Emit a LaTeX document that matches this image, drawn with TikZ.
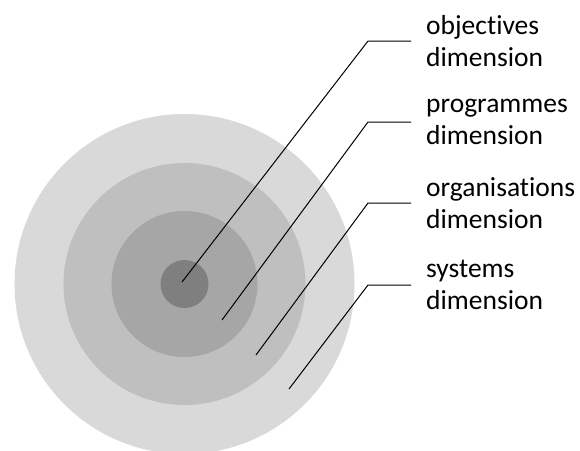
\documentclass[tikz,border=0pt]{standalone}
\usepackage{fontspec}
\setmainfont[RawFeature={-liga}]{Carlito}
\definecolor{ringOut}{HTML}{D9D9D9}
\definecolor{ringOrg}{HTML}{BFBFBF}
\definecolor{ringPrg}{HTML}{A5A6A5}
\definecolor{ringObj}{HTML}{7F7F7F}
\begin{document}
\begin{tikzpicture}[x=1pt,y=-1pt]
	\tikzset{ring/.style = {shape=circle,draw=none,inner sep=0pt}}
	\tikzset{dimlabel/.style = {anchor=west,align=left,inner xsep=15pt,font=\fontsize{27.5}{32}\selectfont}}
	\tikzset{leader/.style = {draw,line width=1pt,black}}
	\useasboundingbox (0,0) rectangle (580,450);
	\clip (0,0) rectangle (580,450);
	% nested rings, outside in
	\node[ring,fill=ringOut,minimum size=340pt] (sys) at (184.5,284) {};
	\node[ring,fill=ringOrg,minimum size=242pt] (org) at (184.5,284) {};
	\node[ring,fill=ringPrg,minimum size=146pt] (prg) at (184.5,284) {};
	\node[ring,fill=ringObj,minimum size=48pt] (obj) at (184.5,284) {};
	% labels
	\node[dimlabel] (lobj) at (411,41) {objectives\\dimension};
	\node[dimlabel] (lprg) at (411,122) {programmes\\dimension};
	\node[dimlabel] (lorg) at (411,203) {organisations\\dimension};
	\node[dimlabel] (lsys) at (411,285) {systems\\dimension};
	% leader lines
	\coordinate (pobj) at (182,282);
	\coordinate (kobj) at (368,41);
	\coordinate (pprg) at (222,320);
	\coordinate (kprg) at (368,122);
	\coordinate (porg) at (256,355);
	\coordinate (korg) at (368,203);
	\coordinate (psys) at (289,389);
	\coordinate (ksys) at (368,285);
	\path[leader] (pobj) -- (kobj) -- (lobj.west);
	\path[leader] (pprg) -- (kprg) -- (lprg.west);
	\path[leader] (porg) -- (korg) -- (lorg.west);
	\path[leader] (psys) -- (ksys) -- (lsys.west);
\end{tikzpicture}
\end{document}
